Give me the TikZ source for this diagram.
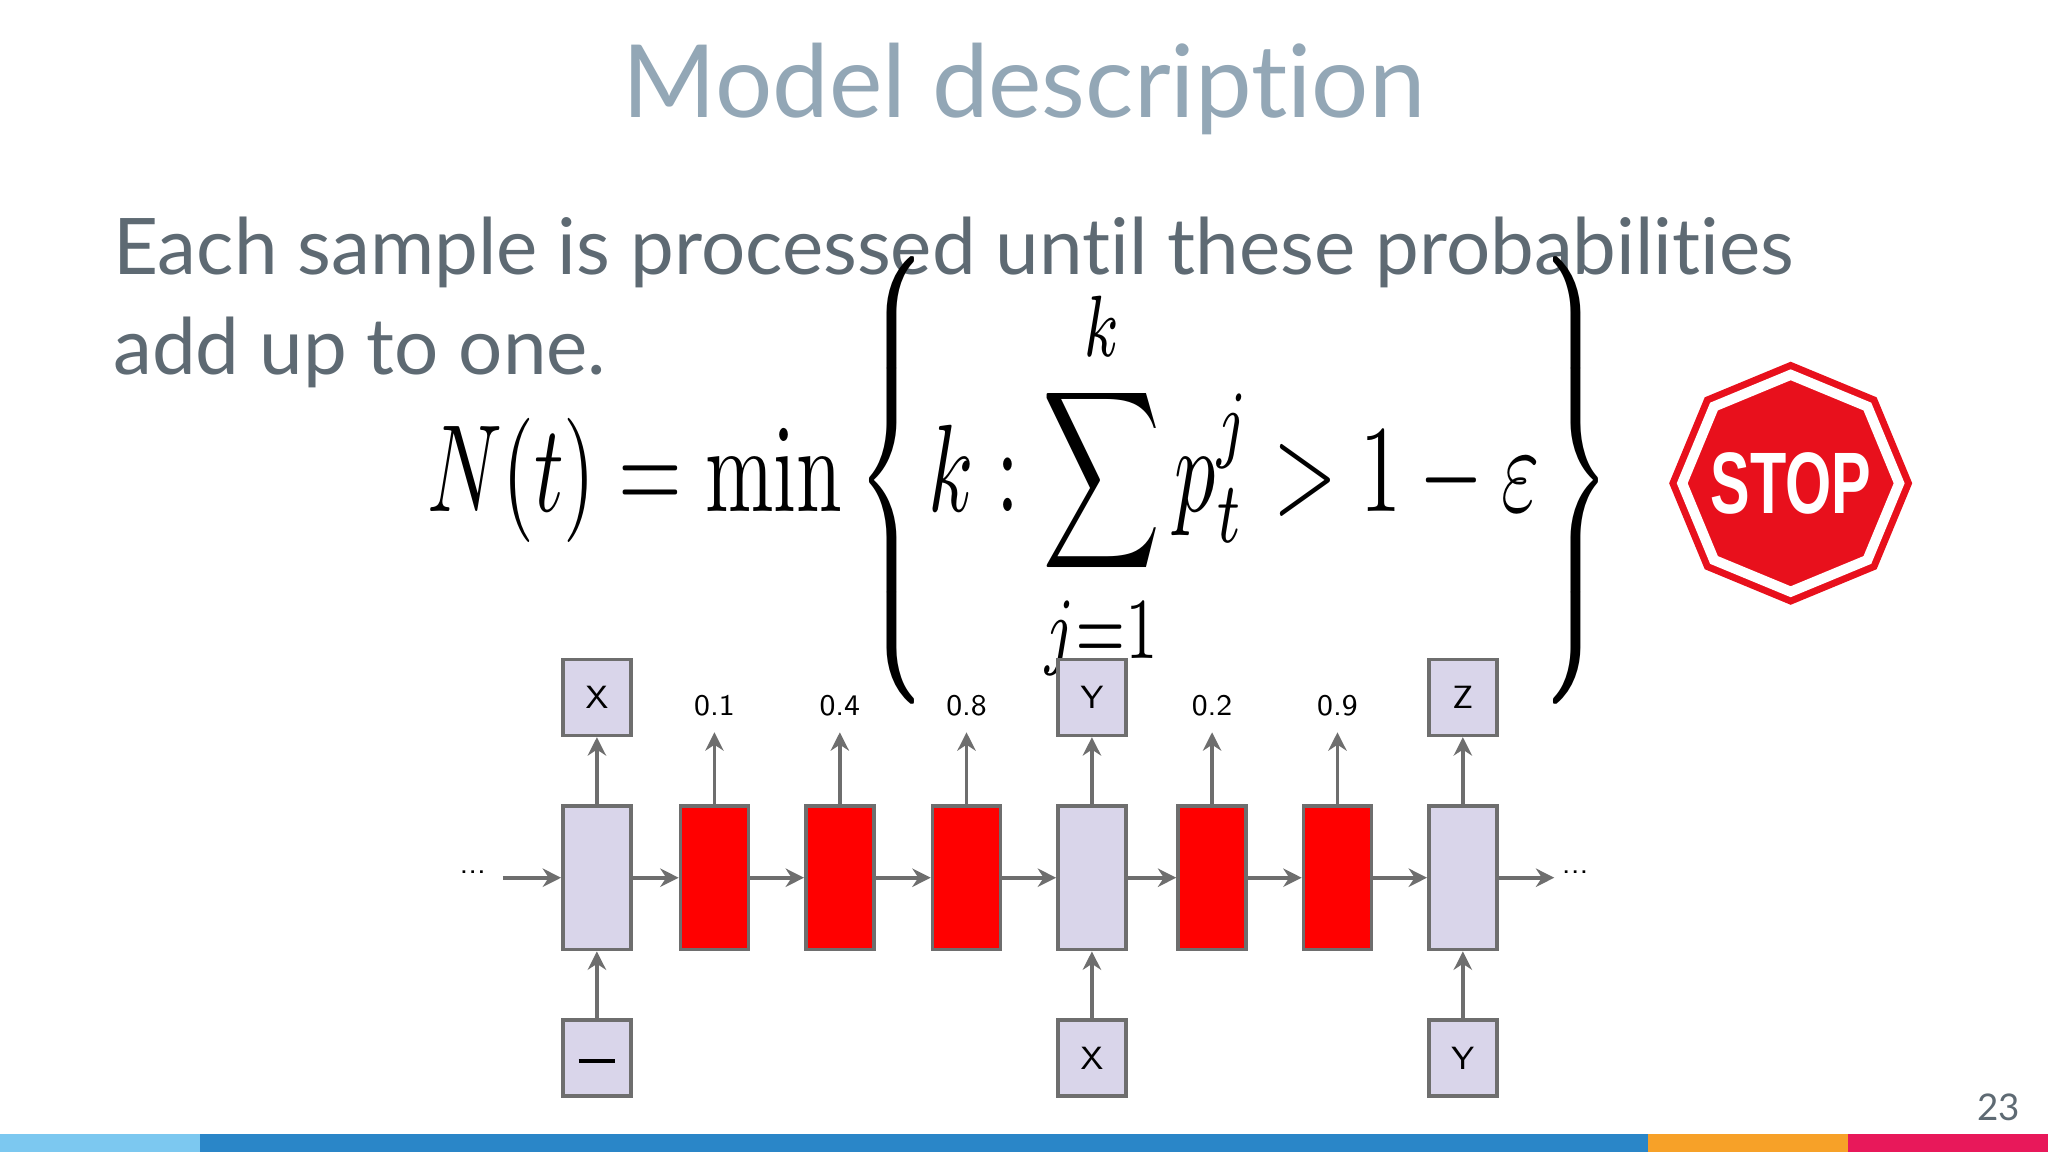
\documentclass[tikz,border=0pt]{standalone}
\usepackage{amsmath}
\usepackage[no-math]{fontspec}
\setmainfont{Lato}[Ligatures={NoCommon,NoDiscretionary,NoRare}]
\newfontfamily\stopfont{Liberation Sans}
\usetikzlibrary{arrows.meta,shapes.geometric}
\definecolor{titlec}{HTML}{93A7B6}
\definecolor{bodyc}{HTML}{5E6A73}
\definecolor{lav}{HTML}{D9D5EA}
\definecolor{bordc}{HTML}{6E6E6E}
\definecolor{redb}{HTML}{FF0000}
\definecolor{stopred}{HTML}{E8101C}
\definecolor{barA}{HTML}{7CC8F0}
\definecolor{barB}{HTML}{2A86C8}
\definecolor{barC}{HTML}{F7A128}
\definecolor{barD}{HTML}{E8185A}
\tikzset{
  cell/.style={draw=bordc,line width=0.8pt,minimum width=0.52cm,minimum height=1.1cm,inner sep=0pt},
  lcell/.style={cell,fill=lav},
  rcell/.style={cell,fill=redb},
  io/.style={draw=bordc,line width=0.8pt,fill=lav,minimum width=0.52cm,minimum height=0.58cm,inner sep=0pt,font=\fontsize{7}{8}\selectfont\sffamily},
  prob/.style={font=\fontsize{6.5}{8}\selectfont\sffamily,inner sep=0pt},
  arr/.style={-{Stealth[length=4pt,width=4pt]},draw=bordc,line width=0.8pt},
}
\begin{document}
\begin{tikzpicture}[x=0.01cm,y=-0.01cm]
\useasboundingbox (0,0) rectangle (1568,882);
\fill[white] (0,0) rectangle (1568,882);
% title and text
\node[text=titlec,font=\fontsize{22}{26}\selectfont] (title) at (784,68) {Model description};
\node[text=bodyc,font=\fontsize{17}{23}\selectfont,anchor=west,inner sep=0pt] (l1) at (86,193) {Each sample is processed until these probabilities};
\node[text=bodyc,font=\fontsize{17}{23}\selectfont,anchor=west,inner sep=0pt] (l2) at (86,270) {add up to one.};
\node (eq) at (781,368) {\resizebox{9.07cm}{1.95cm}{$\displaystyle N(t)=\min\left\{k:\sum_{j=1}^{k}p_t^j>1-\varepsilon\right\}$}};
% stop sign
\node[regular polygon,regular polygon sides=8,shape border rotate=22.5,fill=stopred,minimum size=1.86cm,inner sep=0pt] (stopo) at (1371,370) {};
\node[regular polygon,regular polygon sides=8,shape border rotate=22.5,draw=white,line width=2.2pt,minimum size=1.66cm,inner sep=0pt] (stopi) at (1371,370) {};
\node[text=white,font=\stopfont\bfseries\fontsize{19}{19}\selectfont,xscale=0.68] (stoptxt) at (1371,370) {STOP};
% cells
\node[lcell] (c1) at (457,672) {};
\node[rcell] (c2) at (547,672) {};
\node[rcell] (c3) at (643,672) {};
\node[rcell] (c4) at (740,672) {};
\node[lcell] (c5) at (836,672) {};
\node[rcell] (c6) at (928,672) {};
\node[rcell] (c7) at (1024,672) {};
\node[lcell] (c8) at (1120,672) {};
% top outputs
\node[io] (o1) at (457,534) {X};
\node[io] (o5) at (836,534) {Y};
\node[io] (o8) at (1120,534) {Z};
\node[prob] (p2) at (547,540) {0.1};
\node[prob] (p3) at (643,540) {0.4};
\node[prob] (p4) at (740,540) {0.8};
\node[prob] (p6) at (928,540) {0.2};
\node[prob] (p7) at (1024,540) {0.9};
% bottom inputs
\node[io] (i1) at (457,810) {\rule[-2pt]{8pt}{0.8pt}};
\node[io] (i5) at (836,810) {X};
\node[io] (i8) at (1120,810) {Y};
% dots
\node[prob] (dl) at (362,668) {...};
\node[prob] (dr) at (1206,668) {...};
\coordinate (al) at (385,672);
\coordinate (ar) at (1190,672);
% arrows
\draw[arr] (al) -- (c1);
\foreach \a/\b in {c1/c2,c2/c3,c3/c4,c4/c5,c5/c6,c6/c7,c7/c8} \draw[arr] (\a) -- (\b);
\draw[arr] (c8) -- (ar);
\foreach \a/\b in {c1/o1,c5/o5,c8/o8,i1/c1,i5/c5,i8/c8} \draw[arr] (\a) -- (\b);
\foreach \a/\b in {c2/p2,c3/p3,c4/p4,c6/p6,c7/p7} \draw[arr] (\a.north) -- ([yshift=-0.12cm]\b.south);
% footer
\fill[barA] (0,868) rectangle (153,882);
\fill[barB] (153,868) rectangle (1262,882);
\fill[barC] (1262,868) rectangle (1415,882);
\fill[barD] (1415,868) rectangle (1568,882);
\node[text=bodyc,font=\fontsize{8}{9}\selectfont] (pg) at (1530,848) {23};
\end{tikzpicture}
\end{document}
